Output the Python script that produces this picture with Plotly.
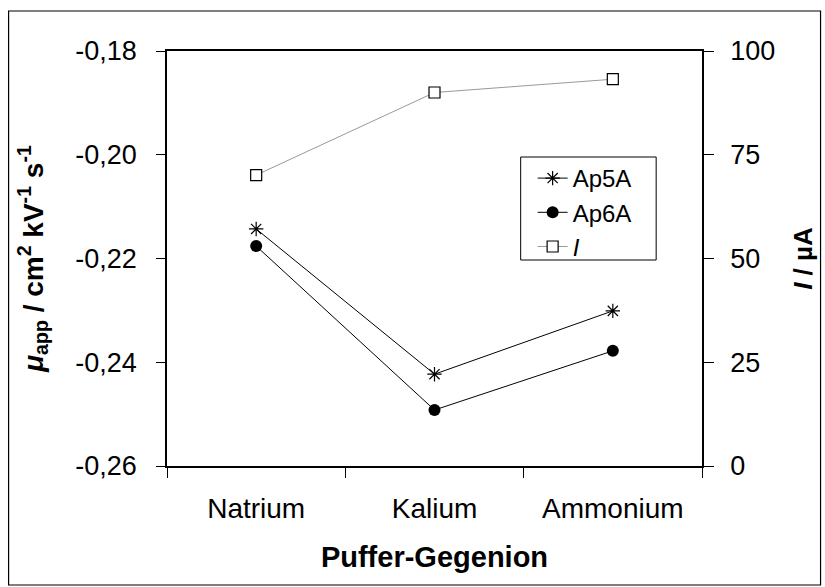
import plotly.graph_objects as go

categories = ["Natrium", "Kalium", "Ammonium"]
ap5a = [-0.2143, -0.2423, -0.2301]
ap6a = [-0.2176, -0.2492, -0.2378]
current = [70.1, 90.0, 93.2]
left_ticks = [-0.26, -0.24, -0.22, -0.20, -0.18]
left_labels = ["-0,26", "-0,24", "-0,22", "-0,20", "-0,18"]
right_ticks = [0, 25, 50, 75, 100]
legend_names = ["Ap5A", "Ap6A", "<i>I</i>"]

FONT = "Liberation Sans, Arial, sans-serif"
PAD = "\u00a0" * 3

fig = go.Figure()
fig.add_trace(go.Scatter(
    x=categories, y=ap5a, name=legend_names[0] + PAD, mode="lines+markers",
    line=dict(color="black", width=1),
    marker=dict(symbol="asterisk-open", size=12, color="black", line=dict(color="black", width=1.2)),
))
fig.add_trace(go.Scatter(
    x=categories, y=ap6a, name=legend_names[1] + PAD, mode="lines+markers",
    line=dict(color="black", width=1),
    marker=dict(symbol="circle", size=12, color="black"),
))
fig.add_trace(go.Scatter(
    x=categories, y=current, name=legend_names[2], mode="lines+markers", yaxis="y2",
    line=dict(color="#999999", width=1),
    marker=dict(symbol="square", size=11, color="white", line=dict(color="black", width=1.2)),
))

L, R, T, B = 167, 704, 51, 466
W, H = 825, 587
pw, ph = R - L, B - T

def px(x):
    return (x - L) / pw

def py(y):
    return (B - y) / ph

fig.update_layout(
    width=W, height=H,
    margin=dict(l=L, r=W - R, t=T, b=H - B, pad=0),
    paper_bgcolor="white", plot_bgcolor="white",
    separators=",.",
    font=dict(family=FONT, color="black", size=26),
    showlegend=True,
    legend=dict(
        x=px(534), y=py(156), xanchor="left", yanchor="top",
        bgcolor="rgba(0,0,0,0)", borderwidth=0,
        font=dict(size=24, family=FONT), itemwidth=30, tracegroupgap=0,
    ),
    xaxis=dict(
        type="category", range=[-0.5, 2.5], tickson="boundaries",
        showline=True, linecolor="black", linewidth=1.5, mirror=True,
        ticks="outside", ticklen=10, tickcolor="black", tickwidth=1,
        tickfont=dict(size=28), ticklabelstandoff=17,
        showgrid=False, zeroline=False,
        title=dict(text="<b>Puffer-Gegenion</b>", font=dict(size=29), standoff=23),
    ),
    yaxis=dict(
        range=[-0.26, -0.18], tickvals=left_ticks, ticktext=left_labels,
        showline=True, linecolor="black", linewidth=1.5,
        ticks="outside", ticklen=9, tickcolor="black", tickwidth=1,
        tickfont=dict(size=27), ticklabelstandoff=14,
        showgrid=False, zeroline=False,
        title=dict(text="<b><i>μ</i><sub>app</sub> / cm<sup>2</sup> kV<sup>-1</sup> s<sup>-1</sup></b>",
                   font=dict(size=28), standoff=24),
    ),
    yaxis2=dict(
        range=[0, 100], tickvals=right_ticks, overlaying="y", side="right",
        showline=True, linecolor="black", linewidth=1.5,
        ticks="outside", ticklen=10, tickcolor="black", tickwidth=1,
        tickfont=dict(size=27), ticklabelstandoff=11,
        showgrid=False, zeroline=False,
        title=dict(text="<b><i>I</i> / µA</b>", font=dict(size=26), standoff=20),
    ),
)

fig.add_shape(type="rect", xref="paper", yref="paper",
              x0=px(8), x1=px(823), y0=py(585), y1=py(11),
              line=dict(color="black", width=1.2), fillcolor="rgba(0,0,0,0)", layer="below")
fig.add_shape(type="rect", xref="paper", yref="paper",
              x0=px(522), x1=px(658), y0=py(260), y1=py(157),
              line=dict(color="black", width=1), fillcolor="white", layer="above")

fig.write_html("out.html")
